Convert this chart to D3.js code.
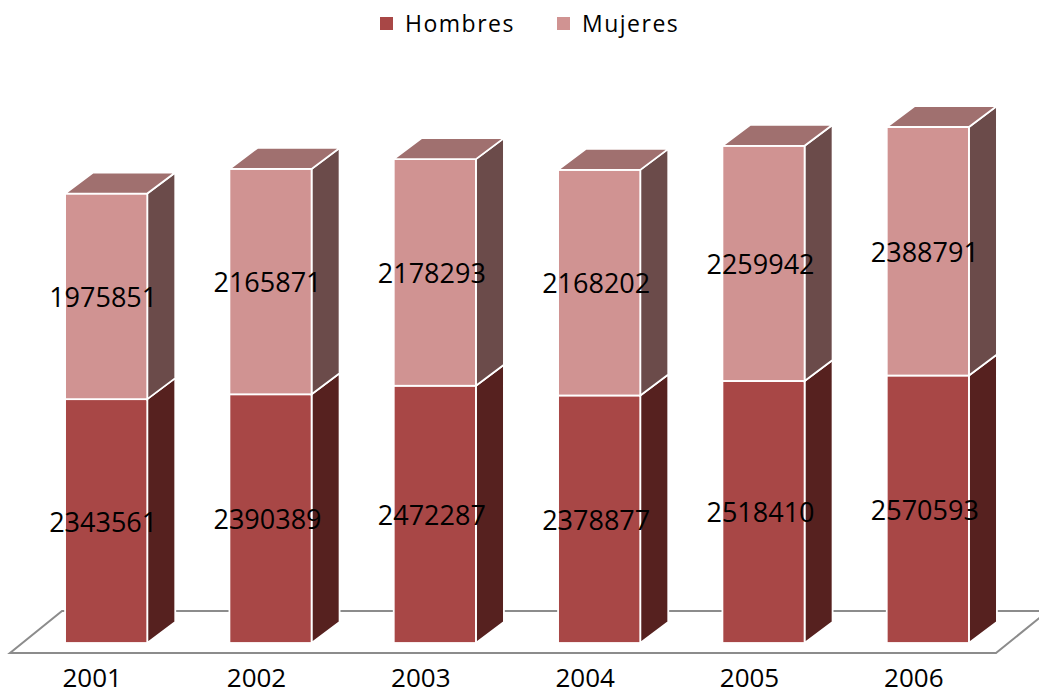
<!DOCTYPE html>
<html>
<head>
<meta charset="utf-8">
<script src="https://cdn.jsdelivr.net/npm/d3@7"></script>
<style>
  body{margin:0;background:#fff;}
  text{font-family:"Open Sans",sans-serif;fill:#000;}
</style>
</head>
<body>
<svg id="chart" width="1039" height="694"></svg>
<script>
var years=["2001","2002","2003","2004","2005","2006"];
var hombres=[2343561,2390389,2472287,2378877,2518410,2570593];
var mujeres=[1975851,2165871,2178293,2168202,2259942,2388791];
var seriesNames=["Hombres","Mujeres"];

var colors={
    Hombres:{front:"#a84746",side:"#56211f",top:"#7a3432"},
    Mujeres:{front:"#d09392",side:"#6b4b4a",top:"#a0706f"}
};

var svg=d3.select("#chart");
var floorLeft=10,floorRight=996,floorFront=653;
var floorDx=52,floorDy=-42;
var barDx=28,barDy=-21,shift=14;

var x=d3.scaleBand().domain(years).range([floorLeft,floorRight]).paddingInner(0.5).paddingOuter(0.25);
var y=d3.scaleLinear().domain([0,5000000]).range([643,122.75]);

// floor
var fl=[[floorLeft,floorFront],[floorRight,floorFront],[floorRight+floorDx,floorFront+floorDy],[floorLeft+floorDx,floorFront+floorDy]];
svg.append("polygon").attr("points",fl.map(function(p){return p.join(",");}).join(" "))
    .attr("fill","none").attr("stroke","#8c8c8c").attr("stroke-width",2);

var bars=svg.append("g");
years.forEach(function(yr,i){
    var x0=x(yr)+shift,x1=x0+x.bandwidth();
    var segs=[
        {name:"Hombres",lo:0,hi:hombres[i]},
        {name:"Mujeres",lo:hombres[i],hi:hombres[i]+mujeres[i]}
    ];
    var g=bars.append("g");
    segs.forEach(function(s,k){
        var yb=y(s.lo),yt=y(s.hi),c=colors[s.name];
        g.append("polygon")
            .attr("points",[[x1,yb],[x1+barDx,yb+barDy],[x1+barDx,yt+barDy],[x1,yt]].join(" "))
            .attr("fill",c.side).attr("stroke","#fff").attr("stroke-width",1.8);
        g.append("rect").attr("x",x0).attr("y",yt).attr("width",x1-x0).attr("height",yb-yt)
            .attr("fill",c.front).attr("stroke","#fff").attr("stroke-width",1.8);
        if(k===segs.length-1){
            g.append("polygon")
                .attr("points",[[x0,yt],[x1,yt],[x1+barDx,yt+barDy],[x0+barDx,yt+barDy]].join(" "))
                .attr("fill",c.top).attr("stroke","#fff").attr("stroke-width",1.8);
        }
        g.append("text").attr("x",(x0+x1)/2-3).attr("y",(yb+yt)/2)
            .attr("text-anchor","middle").attr("dominant-baseline","central")
            .attr("font-size",27).text(s.hi-s.lo);
    });
});

// category labels
svg.append("g").selectAll("text").data(years).enter().append("text")
    .attr("x",function(d){return x(d)+x.bandwidth()/2;})
    .attr("y",687).attr("text-anchor","middle")
    .attr("font-size",26).text(function(d){return d;});

// legend
var legX=[380,557];
var legend=svg.append("g");
seriesNames.forEach(function(n,i){
    legend.append("rect").attr("x",legX[i]).attr("y",17).attr("width",13).attr("height",13)
        .attr("fill",colors[n].front);
    legend.append("text").attr("x",legX[i]+25).attr("y",32)
        .attr("font-size",23).attr("letter-spacing",1.5).text(n);
});
</script>
</body>
</html>
